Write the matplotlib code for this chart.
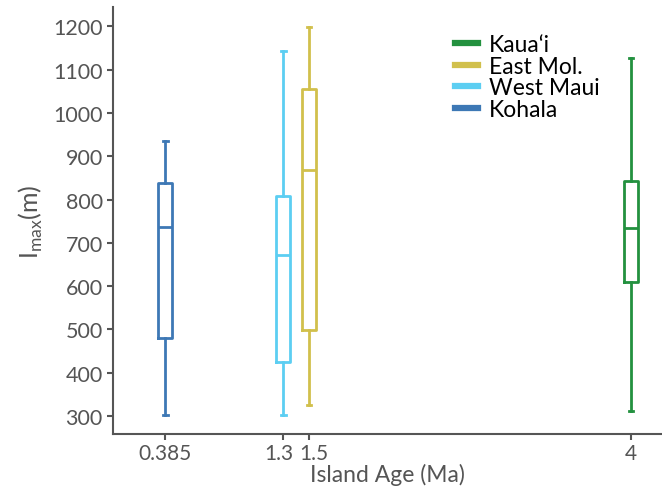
import matplotlib
matplotlib.use("Agg")
import matplotlib.pyplot as plt
import matplotlib.transforms as mtransforms
from matplotlib.lines import Line2D

plt.rcParams['font.family'] = ['Lato', 'DejaVu Sans']

islands = ["Kohala", "West Maui", "East Mol.", "Kaua\u2018i"]
ages = [0.385, 1.3, 1.5, 4.0]
colors = ["#3d78b5", "#5ccef2", "#d1c04c", "#23913f"]
whislo = [303, 303, 325, 312]
q1 = [481, 425, 499, 610]
med = [737, 672, 868, 734]
q3 = [839, 808, 1055, 842]
whishi = [936, 1144, 1198, 1126]
xtick_labels = ["0.385", "1.3", "1.5", "4"]
yticks = [300, 400, 500, 600, 700, 800, 900, 1000, 1100, 1200]

fig = plt.figure(figsize=(6.62, 4.89), dpi=100)
ax = fig.add_axes([0.171, 0.110, 0.829, 0.874])

for i in range(len(islands)):
    st = [dict(med=med[i], q1=q1[i], q3=q3[i], whislo=whislo[i], whishi=whishi[i], fliers=[], label=islands[i])]
    c = colors[i]
    ax.bxp(st, positions=[ages[i]], widths=0.11, showfliers=False, manage_ticks=False,
           boxprops=dict(color=c, linewidth=2),
           whiskerprops=dict(color=c, linewidth=2),
           capprops=dict(color=c, linewidth=2),
           medianprops=dict(color=c, linewidth=2),
           capwidths=0.035)

ax.set_xlim(-0.02, 4.24)
ax.set_ylim(258, 1245)
ax.set_xticks(ages)
ax.set_xticklabels(xtick_labels)
ax.set_yticks(yticks)
ax.tick_params(axis='y', colors='#555555', labelsize=15.5, length=4, width=1.5, direction='out')
ax.tick_params(axis='x', colors='#555555', labelsize=15, length=4, width=1.5, direction='out', pad=2)
for s in ['top', 'right']:
    ax.spines[s].set_visible(False)
for s in ['left', 'bottom']:
    ax.spines[s].set_color('#555555')
    ax.spines[s].set_linewidth(1.5)

# nudge the two close labels apart
xl = ax.get_xticklabels()
xl[1].set_transform(xl[1].get_transform() + mtransforms.ScaledTranslation(-4/100, 0, fig.dpi_scale_trans))
xl[2].set_transform(xl[2].get_transform() + mtransforms.ScaledTranslation(5/100, 0, fig.dpi_scale_trans))

ax.set_xlabel("Island Age (Ma)", fontsize=16.5, color='#555555', labelpad=0)
ax.set_ylabel(r"I$_{\mathregular{max}}$(m)", fontsize=18, color='#555555', labelpad=6)

order = [3, 2, 1, 0]
handles = [Line2D([0], [0], color=colors[k], linewidth=4.5) for k in order]
labels = [islands[k] for k in order]
ax.legend(handles, labels, loc='upper left', bbox_to_anchor=(0.607, 0.957), frameon=False,
          fontsize=16.5, handlelength=1.0, handletextpad=0.45, labelspacing=0.02, borderaxespad=0)

fig.savefig("out.png", dpi=100)
